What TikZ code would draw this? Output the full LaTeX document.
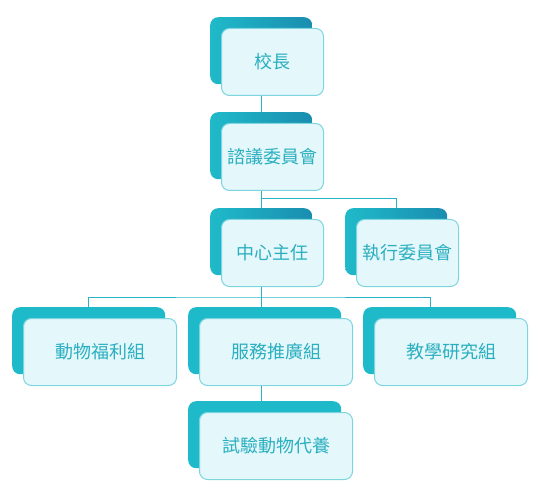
\documentclass[tikz,border=0pt]{standalone}
\usepackage{fontspec}
\newfontfamily\cjk{Noto Sans CJK TC}
\usetikzlibrary{positioning,calc}
\definecolor{tealA}{HTML}{1FBAC9}
\definecolor{tealB}{HTML}{1A8DB0}
\definecolor{paleface}{HTML}{E4F7FA}
\definecolor{faceline}{HTML}{7DD5E0}
\definecolor{txtcol}{HTML}{2AAFC0}
\definecolor{linkcol}{HTML}{2BB3C3}
\tikzset{
  backbox/.style={rounded corners=8pt, minimum height=67pt, inner sep=0pt},
  face/.style={rounded corners=8pt, fill=paleface, draw=faceline, line width=1pt,
               minimum height=67pt, inner sep=0pt, text=txtcol,
               font=\cjk\fontsize{18}{20}\selectfont},
  deep/.style={left color=tealA, right color=tealB},
  flat/.style={fill=tealA},
  link/.style={draw=linkcol, line width=1pt},
}

\begin{document}
\begin{tikzpicture}[x=1pt,y=-1pt]
  \useasboundingbox (0,0) rectangle (541,497);
  % name, left, top, width, back fill, text
  \def\unit#1#2#3#4#5#6{%
    \node[backbox, #5, minimum width=#4pt, anchor=north west] (#1b) at (#2,#3) {};
    \node[face, minimum width=#4pt, anchor=north west] (#1)
      at ($(#1b.north west)+(11pt,-11pt)$) {#6};
  }
  \unit{head}{210}{17}{102}{deep}{校長}
  \unit{council}{210}{112}{102}{deep}{諮議委員會}
  \unit{director}{210}{208}{102}{deep}{中心主任}
  \unit{exec}{345}{208}{102}{deep}{執行委員會}
  \unit{welfare}{12}{307}{153}{flat}{動物福利組}
  \unit{service}{188}{307}{153}{flat}{服務推廣組}
  \unit{teach}{363}{307}{153}{flat}{教學研究組}
  \unit{boarding}{188}{401}{153}{flat}{試驗動物代養}

  \coordinate (split1) at (262,199);
  \coordinate (split2) at (262,297);
  \draw[link] (headb.center |- head.south) -- (headb.center |- councilb.north);
  \draw[link] (councilb.center |- council.south) -- (directorb.north);
  \draw[link] (split1) -| (execb.north);
  \draw[link] (directorb.center |- director.south) -- (directorb.center |- serviceb.north);
  \draw[link] (welfareb.north) |- (split2) -| ([xshift=-9pt]teachb.north);
  \draw[link] (directorb.center |- service.south) -- (directorb.center |- boardingb.north);
\end{tikzpicture}
\end{document}
